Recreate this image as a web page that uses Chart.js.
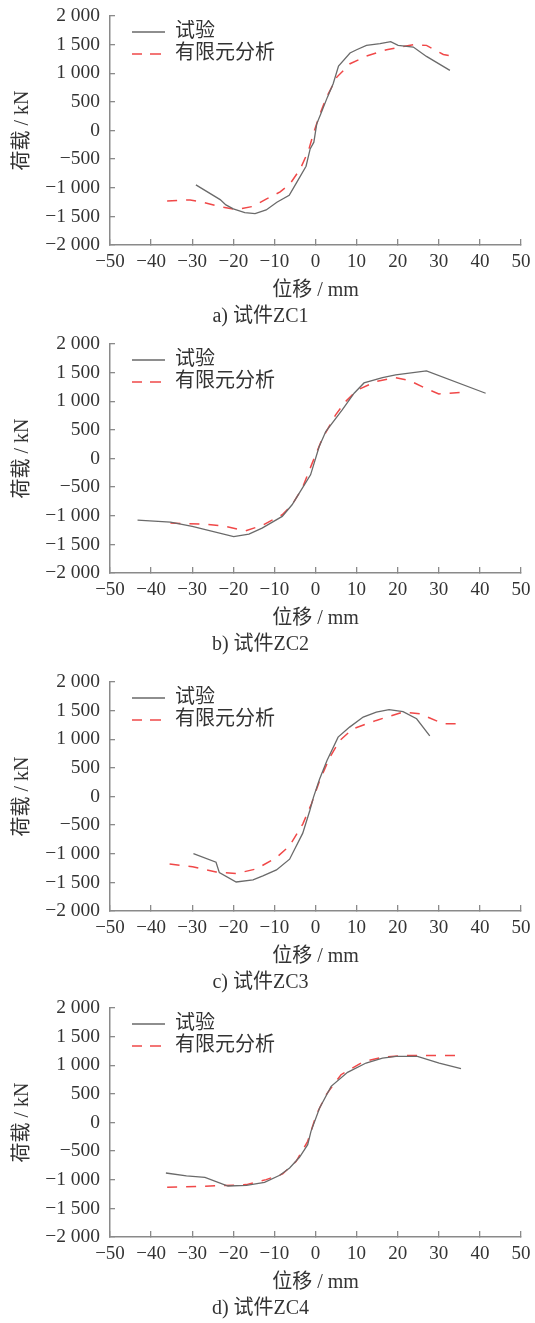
<!DOCTYPE html>
<html>
<head>
<meta charset="utf-8">
<script src="https://cdn.jsdelivr.net/npm/chart.js@4.4.1/dist/chart.umd.min.js"></script>
<style>
  html, body { margin: 0; padding: 0; background: #fff; overflow: hidden; }
  body { width: 535px; height: 1323px; position: relative; }
  canvas { position: absolute; left: 0; }
</style>
</head>
<body>
<canvas id="zc1" width="535" height="333" style="top:0px"></canvas>
<canvas id="zc2" width="535" height="333" style="top:328px"></canvas>
<canvas id="zc3" width="535" height="333" style="top:666px"></canvas>
<canvas id="zc4" width="535" height="333" style="top:992px"></canvas>
<script>
// tick labels
const xTickLabels = ['\u221250', '\u221240', '\u221230', '\u221220', '\u221210', '0', '10', '20', '30', '40', '50'];
const yTickLabels = ['\u22122 000', '\u22121 500', '\u22121 000', '\u2212500', '0', '500', '1 000', '1 500', '2 000'];
const seriesNames = ['试验', '有限元分析'];
const captions = ['a) 试件ZC1', 'b) 试件ZC2', 'c) 试件ZC3', 'd) 试件ZC4'];

// ZC1
const zc1TestX = [-29.1, -23.2, -21.8, -20.0, -17.2, -14.7, -12.0, -9.4, -6.4, -4.6, -2.3, -1.3, -0.4, 0.3, 1.3, 2.9, 4.3, 5.6, 8.4, 10.0, 12.4, 15.7, 18.3, 20.1, 23.8, 27.0, 32.7];
const zc1TestY = [-950, -1207, -1300, -1370, -1434, -1452, -1388, -1254, -1131, -910, -624, -321, -204, 117, 292, 583, 816, 1125, 1353, 1411, 1487, 1516, 1551, 1487, 1458, 1294, 1050];
const zc1FeX = [-36.1, -30.5, -28.1, -23.2, -19.2, -15.1, -11.9, -8.6, -6.2, -3.7, -1.7, -0.4, 1.1, 2.7, 5.2, 8.4, 12.4, 17.3, 20.6, 23.8, 27.0, 31.1, 34.3];
const zc1FeY = [-1230, -1213, -1242, -1329, -1382, -1324, -1195, -1073, -933, -671, -350, -29, 292, 583, 933, 1166, 1300, 1411, 1458, 1499, 1487, 1329, 1283];

// ZC2
const zc2TestX = [-43.3, -35.3, -30.0, -19.9, -16.2, -13.0, -8.1, -5.7, -4.1, -1.2, 0.9, 2.5, 6.5, 9.4, 11.8, 16.3, 19.5, 27.0, 41.4];
const zc2TestY = [-1076, -1110, -1186, -1366, -1320, -1215, -1012, -808, -622, -285, 209, 471, 849, 1140, 1320, 1413, 1459, 1529, 1140];
const zc2FeX = [-35.3, -27.6, -22.7, -17.0, -13.0, -8.1, -5.7, -3.2, -0.8, 1.7, 4.9, 7.3, 10.2, 14.7, 19.5, 22.7, 26.8, 30.0, 35.7];
const zc2FeY = [-1128, -1145, -1174, -1262, -1169, -983, -808, -517, -81, 355, 762, 994, 1198, 1343, 1413, 1366, 1227, 1128, 1157];

// ZC3
const zc3TestX = [-29.7, -24.2, -23.4, -19.3, -15.2, -12.8, -9.5, -6.3, -3.1, -1.4, -0.5, 1.0, 2.8, 5.5, 8.3, 11.6, 14.8, 17.9, 21.3, 24.6, 27.8];
const zc3TestY = [-996, -1148, -1329, -1493, -1457, -1387, -1282, -1095, -640, -248, -15, 307, 628, 1037, 1212, 1387, 1475, 1516, 1481, 1358, 1060];
const zc3FeX = [-35.5, -29.9, -24.2, -19.3, -14.4, -9.5, -6.3, -3.1, -1.0, 1.0, 3.5, 5.9, 9.1, 14.8, 21.3, 25.4, 31.1, 35.9];
const zc3FeY = [-1180, -1229, -1317, -1346, -1265, -1066, -862, -482, -131, 277, 686, 978, 1182, 1329, 1475, 1446, 1270, 1270];

// ZC4
const zc4TestX = [-36.4, -31.4, -26.9, -21.3, -16.8, -12.4, -8.7, -6.3, -3.9, -1.9, -1.1, 1.0, 3.8, 7.8, 12.3, 16.3, 19.6, 24.8, 30.1, 35.4];
const zc4TestY = [-882, -934, -957, -1109, -1097, -1045, -922, -794, -608, -387, -154, 253, 631, 876, 1039, 1126, 1155, 1155, 1039, 940];
const zc4FeX = [-36.1, -28.2, -22.5, -16.8, -12.0, -8.0, -4.7, -1.9, 0.2, 2.6, 6.2, 11.5, 16.3, 22.0, 29.3, 35.0];
const zc4FeY = [-1132, -1114, -1103, -1085, -998, -899, -678, -329, 137, 486, 835, 1056, 1143, 1172, 1172, 1172];

const FONT = "'Liberation Serif', 'Noto Sans CJK SC', serif";
const axisGray = '#8a8a8a';
const textColor = '#333';

function pts(xs, ys) {
  return xs.map((x, i) => ({ x: x, y: ys[i] }));
}

// put the legend in the top-left corner of the plot
const legendSpot = {
  id: 'legendSpot',
  afterLayout(chart) {
    const lg = chart.legend, ca = chart.chartArea;
    const w = lg.width, h = lg.height;
    lg.left = ca.left + 20;
    lg.top = ca.top + 4;
    lg.right = lg.left + w;
    lg.bottom = lg.top + h;
  }
};

function makeChart(id, testX, testY, feX, feY, caption) {
  new Chart(document.getElementById(id), {
    type: 'line',
    data: {
      datasets: [{
        label: seriesNames[0],
        data: pts(testX, testY),
        borderColor: '#6a6a6a',
        borderWidth: 1.3,
        pointRadius: 0,
        tension: 0,
        fill: false
      }, {
        label: seriesNames[1],
        data: pts(feX, feY),
        borderColor: '#f04848',
        borderWidth: 1.5,
        borderDash: [10, 9],
        pointRadius: 0,
        tension: 0,
        fill: false
      }]
    },
    options: {
      responsive: false,
      animation: false,
      devicePixelRatio: 1,
      layout: { padding: { top: 16, right: 14, left: 0, bottom: 0 } },
      plugins: {
        legend: {
          position: 'chartArea',
          align: 'start',
          labels: {
            boxWidth: 33,
            boxHeight: 0,
            padding: 2,
            color: textColor,
            font: { family: FONT, size: 20 }
          }
        },
        title: {
          display: true,
          position: 'bottom',
          text: caption,
          color: textColor,
          font: { family: FONT, size: 20, weight: 'normal', lineHeight: 1.2 },
          padding: { top: 2, bottom: 4 }
        },
        tooltip: { enabled: false }
      },
      scales: {
        x: {
          type: 'linear',
          min: -50,
          max: 50,
          afterFit: s => { s.height = 58; s.paddingLeft = 0; s.paddingRight = 0; },
          ticks: {
            stepSize: 10,
            autoSkip: false,
            maxRotation: 0,
            padding: 12,
            color: textColor,
            font: { family: FONT, size: 19, lineHeight: 1.2 },
            callback: (v, i) => xTickLabels[i]
          },
          grid: { drawOnChartArea: false, tickLength: -6, color: axisGray, lineWidth: 1.3 },
          border: { color: axisGray, width: 1.5 },
          title: {
            display: true,
            text: '位移 / mm',
            color: textColor,
            font: { family: FONT, size: 20, lineHeight: 1.2 },
            padding: { top: 0, bottom: 0 }
          }
        },
        y: {
          type: 'linear',
          min: -2000,
          max: 2000,
          afterFit: s => { s.width = 110; s.paddingTop = 0; s.paddingBottom = 0; },
          ticks: {
            stepSize: 500,
            autoSkip: false,
            padding: 15,
            color: textColor,
            font: { family: FONT, size: 19.5, lineHeight: 1.2 },
            callback: (v, i) => yTickLabels[i]
          },
          grid: { drawOnChartArea: false, tickLength: -5, color: axisGray, lineWidth: 1.3 },
          border: { color: axisGray, width: 1.5 },
          title: {
            display: true,
            text: '荷载 / kN',
            color: textColor,
            font: { family: FONT, size: 20, lineHeight: 1.2 },
            padding: { top: 11, bottom: 0 }
          }
        }
      }
    },
    plugins: [legendSpot]
  });
}

makeChart('zc1', zc1TestX, zc1TestY, zc1FeX, zc1FeY, captions[0]);
makeChart('zc2', zc2TestX, zc2TestY, zc2FeX, zc2FeY, captions[1]);
makeChart('zc3', zc3TestX, zc3TestY, zc3FeX, zc3FeY, captions[2]);
makeChart('zc4', zc4TestX, zc4TestY, zc4FeX, zc4FeY, captions[3]);
</script>
</body>
</html>
